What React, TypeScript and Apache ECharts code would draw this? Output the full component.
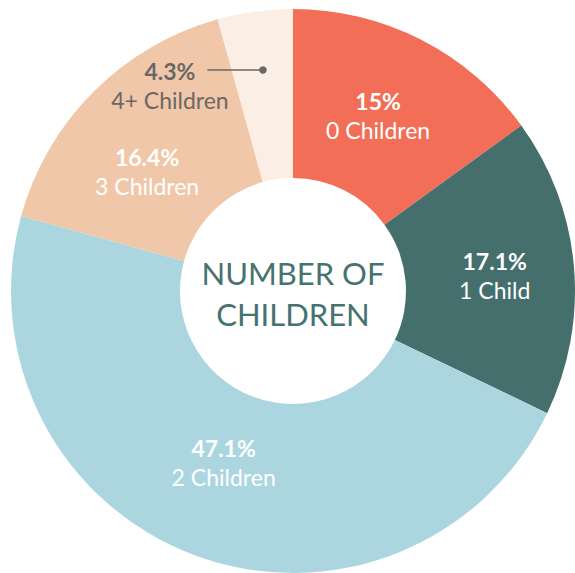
import React, { useEffect, useRef } from 'react';
import * as echarts from 'echarts';

const categories = ['0 Children', '1 Child', '2 Children', '3 Children', '4+ Children'];
const shares = [15, 17.1, 47.1, 16.4, 4.3];
const sliceColors = ['#F26E57', '#446F6D', '#ACD6DF', '#F0C7A9', '#FAEEE5'];
const centerTitle = 'NUMBER OF\nCHILDREN';

// small nudges of the inside labels (layout only)
const labelNudge: [number, number][] = [[-6, 3.5], [2, 2], [1, -16.5], [-4, 22], [0, 0]];

export default function App() {
  const ref = useRef<HTMLDivElement>(null);
  useEffect(() => {
    const chart = echarts.init(ref.current!, null, { renderer: 'svg' });
    const cx = 293, cy = 291, r0 = 113, r1 = 282;
    const total = shares.reduce((a, b) => a + b, 0);
    const last = shares.length - 1;
    const before = shares.slice(0, last).reduce((a, b) => a + b, 0);
    const mid = ((before + shares[last] / 2) / total) * 2 * Math.PI;
    const dotR = 223;
    const dotX = cx + dotR * Math.sin(mid);
    const dotY = cy - dotR * Math.cos(mid);

    const font = 'Lato, "Noto Sans", sans-serif';
    const data = categories.map((name, i) => ({
      name,
      value: shares[i],
      itemStyle: { color: sliceColors[i] },
      label: i === last ? { color: '#6B6766' } : undefined,
    }));

    chart.setOption({
      animation: false,
      series: [
        {
          type: 'pie',
          center: [cx, cy],
          radius: [r0, r1],
          startAngle: 90,
          clockwise: true,
          silent: true,
          data,
          label: {
            show: true,
            position: 'inside',
            color: '#FFFFFF',
            fontFamily: font,
            formatter: (p: any) => `{p|${p.value}%}\n{n|${p.name}}`,
            rich: {
              p: { fontSize: 23, fontWeight: 'bold', fontFamily: font, lineHeight: 29 },
              n: { fontSize: 23, fontFamily: font, lineHeight: 29 },
            },
          },
          labelLine: { show: false },
          labelLayout: (params: any) => {
            const i = params.dataIndex;
            if (i === last) {
              return { x: dotX - 93, y: dotY + 15.5, align: 'center', verticalAlign: 'middle' };
            }
            return { dx: labelNudge[i][0], dy: labelNudge[i][1] };
          },
        },
      ],
      graphic: [
        {
          type: 'line',
          z: 100,
          shape: { x1: dotX, y1: dotY, x2: dotX - 55.5, y2: dotY },
          style: { stroke: '#6B6766', lineWidth: 1.5 },
        },
        {
          type: 'circle',
          z: 100,
          shape: { cx: dotX, cy: dotY, r: 3.8 },
          style: { fill: '#6B6766' },
        },
        {
          type: 'text',
          z: 100,
          x: cx,
          y: cy + 2.5,
          style: {
            text: centerTitle,
            fill: '#46726F',
            font: `31px ${font}`,
            lineHeight: 41,
            align: 'center',
            verticalAlign: 'middle',
          },
        },
      ],
    });
    return () => chart.dispose();
  }, []);
  return (
    <div
      ref={ref}
      style={{ position: 'fixed', left: 0, top: 0, width: 575, height: 573, background: '#fff' }}
    />
  );
}
